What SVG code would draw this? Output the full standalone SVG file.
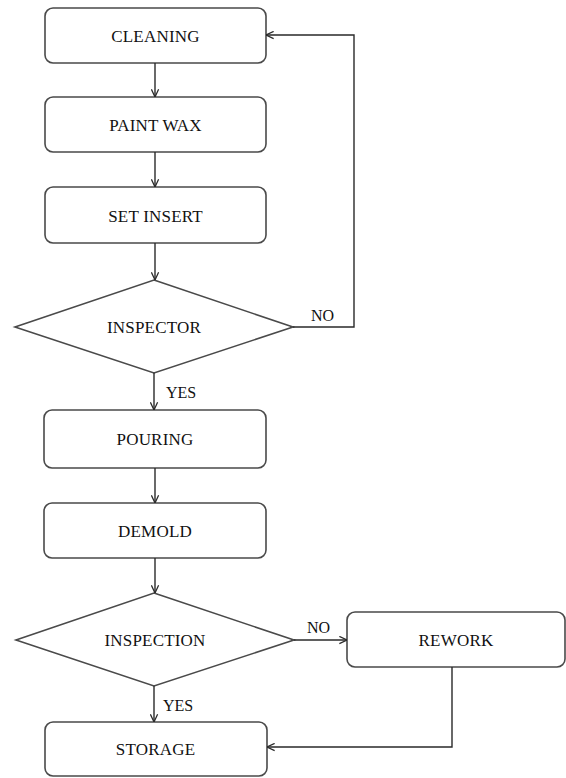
<svg xmlns="http://www.w3.org/2000/svg" width="566" height="778" viewBox="0 0 566 778">
  <style>
    .box { fill: #ffffff; stroke: #4a4a4a; stroke-width: 1.6; }
    .lbl { font-family: "Liberation Serif", "Times New Roman", serif; font-size: 17px; fill: #111111; text-anchor: middle; letter-spacing: 0.2px; }
    .edge { fill: none; stroke: #2a2a2a; stroke-width: 1.4; }
    .tag { font-family: "Liberation Serif", "Times New Roman", serif; font-size: 16px; fill: #111111; }
  </style>
  <defs>
    <marker id="arrow" viewBox="0 0 10 10" refX="9.5" refY="5" markerWidth="9" markerHeight="9" markerUnits="userSpaceOnUse" orient="auto">
      <path d="M1,1 L9.5,5 L1,9" fill="none" stroke="#2a2a2a" stroke-width="1.4"/>
    </marker>
  </defs>
  <rect width="566" height="778" fill="#ffffff"/>

  <g id="cleaning">
    <rect class="box" x="45" y="8" width="221" height="55" rx="8"/>
    <text class="lbl" x="155.5" y="42">CLEANING</text>
  </g>
  <g id="paint-wax">
    <rect class="box" x="45" y="97" width="221" height="55" rx="8"/>
    <text class="lbl" x="155.5" y="131">PAINT WAX</text>
  </g>
  <g id="set-insert">
    <rect class="box" x="45" y="187" width="221" height="56" rx="8"/>
    <text class="lbl" x="155.5" y="221.5">SET INSERT</text>
  </g>
  <g id="inspector">
    <polygon class="box" points="154,280 293,327 154,373 15,327"/>
    <text class="lbl" x="154" y="333">INSPECTOR</text>
  </g>
  <g id="pouring">
    <rect class="box" x="44" y="410" width="222" height="58" rx="8"/>
    <text class="lbl" x="155" y="445">POURING</text>
  </g>
  <g id="demold">
    <rect class="box" x="44" y="503" width="222" height="55" rx="8"/>
    <text class="lbl" x="155" y="536.5">DEMOLD</text>
  </g>
  <g id="inspection">
    <polygon class="box" points="154,593 294,640 154,686 16,640"/>
    <text class="lbl" x="155" y="646">INSPECTION</text>
  </g>
  <g id="rework">
    <rect class="box" x="347" y="612" width="218" height="55" rx="8"/>
    <text class="lbl" x="456" y="646">REWORK</text>
  </g>
  <g id="storage">
    <rect class="box" x="45" y="722" width="222" height="54" rx="8"/>
    <text class="lbl" x="155.5" y="755">STORAGE</text>
  </g>

  <g id="connectors">
    <path class="edge" d="M155,63 V97" marker-end="url(#arrow)"/>
    <path class="edge" d="M155,152 V187" marker-end="url(#arrow)"/>
    <path class="edge" d="M155,243 V280" marker-end="url(#arrow)"/>
    <path class="edge" d="M293,327 H354 V35 H266" marker-end="url(#arrow)"/>
    <path class="edge" d="M154,373 V410" marker-end="url(#arrow)"/>
    <path class="edge" d="M155,468 V503" marker-end="url(#arrow)"/>
    <path class="edge" d="M155,558 V593" marker-end="url(#arrow)"/>
    <path class="edge" d="M294,640 H347" marker-end="url(#arrow)"/>
    <path class="edge" d="M154,686 V722" marker-end="url(#arrow)"/>
    <path class="edge" d="M452,667 V747 H267" marker-end="url(#arrow)"/>
    <text class="tag" x="311" y="321">NO</text>
    <text class="tag" x="166" y="398">YES</text>
    <text class="tag" x="307" y="633">NO</text>
    <text class="tag" x="163" y="711">YES</text>
  </g>
</svg>
